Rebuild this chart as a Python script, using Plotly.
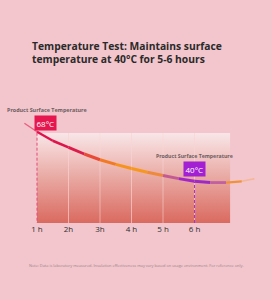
import plotly.graph_objects as go

# ---------------- data ----------------
TITLE_LINES = ["Temperature Test: Maintains surface", "temperature at 40°C for 5-6 hours"]
SERIES_NAME = "Product Surface Temperature"
NOTE = "Note: Data is laboratory measured. Insulation effectiveness may vary based on usage environment. For reference only."

tick_hours = [1, 2, 3, 4, 5, 6]
tick_labels = ["1 h", "2h", "3h", "4 h", "5 h", "6 h"]

curve_hours = [0.6, 1.0, 1.5, 2.0, 2.5, 3.0, 3.5, 4.0, 4.5, 5.0, 5.5, 6.0, 6.5, 7.0, 7.5, 7.9]
curve_temps = [72.7, 68.0, 63.0, 59.3, 55.6, 52.4, 49.8, 47.5, 45.4, 43.6, 41.9, 40.4, 39.7, 39.7, 40.4, 41.8]

start_hour, start_temp, start_label = 1, 68, "68°C"
end_hour, end_temp, end_label = 6, 40, "40°C"

# ---------------- style ----------------
BG = "#f2c6cc"
PANEL_END = 7.13
PANEL_TOP = 67.3
Y_MIN, Y_MAX = 17.2, 141.3
X_MIN, X_MAX = -0.1746, 8.46

seg_colors = ["rgba(230,60,105,0.75)", "#e0124c", "#de144c", "#dc1c4a", "#e84a35", "#f27a24",
              "#f6921e", "#f7981e", "#ee8a3c", "#c45a92", "#a225c8", "#9c28c6", "#c060a0",
              "#f0923a", "rgba(245,170,100,0.55)"]
seg_widths = [1.4, 2.2, 2.6, 2.8, 3, 3, 3, 3, 3, 3, 3, 3, 2.8, 2.2, 1.4]

fig = go.Figure()

# gradient panel columns
edges = tick_hours + [PANEL_END]
for i in range(len(edges) - 1):
    x0, x1 = edges[i], edges[i + 1]
    fig.add_trace(go.Scatter(
        x=[x0, x1, x1, x0, x0], y=[Y_MIN, Y_MIN, PANEL_TOP, PANEL_TOP, Y_MIN],
        mode="lines", line=dict(width=0), fill="toself",
        fillgradient=dict(type="vertical",
                          colorscale=[[0, "#da6a60"], [0.45, "#e7a29b"], [1, "#f9e6e8"]]),
        hoverinfo="skip", showlegend=False))

# column separators
for h in tick_hours[1:]:
    fig.add_trace(go.Scatter(x=[h, h], y=[Y_MIN, PANEL_TOP], mode="lines",
                             line=dict(color="rgba(250,215,215,0.55)", width=1),
                             hoverinfo="skip", showlegend=False))

# dashed marker lines
fig.add_trace(go.Scatter(x=[start_hour, start_hour], y=[Y_MIN - 1.5, start_temp + 0.8], mode="lines",
                         line=dict(color="#e4487a", width=1, dash="3px,2px"),
                         hoverinfo="skip", showlegend=False))
fig.add_trace(go.Scatter(x=[end_hour, end_hour], y=[Y_MIN, end_temp], mode="lines",
                         line=dict(color="#a535cf", width=1, dash="3px,2px"),
                         hoverinfo="skip", showlegend=False))

# gradient curve as segments
for i in range(len(curve_hours) - 1):
    fig.add_trace(go.Scatter(
        x=curve_hours[i:i + 2], y=curve_temps[i:i + 2], mode="lines",
        line=dict(color=seg_colors[i], width=seg_widths[i]),
        hoverinfo="skip", showlegend=False))

FONT = "Open Sans"
ann = []
ann.append(dict(xref="paper", yref="paper", x=30 / 272, y=1, yshift=-37,
                xanchor="left", yanchor="top", align="left",
                text="<b>" + "<br>".join(TITLE_LINES) + "</b>", showarrow=False,
                font=dict(family=FONT, size=10.3, color="#2a2a2a")))
ann.append(dict(x=start_hour, y=start_temp, xref="x", yref="y", text=start_label, showarrow=False,
                xshift=8.5, yshift=8.5, bgcolor="#e5174e", borderpad=1.5,
                font=dict(family=FONT, size=8, color="white")))
ann.append(dict(x=start_hour, y=start_temp, xref="x", yref="y", text="<b>" + SERIES_NAME + "</b>",
                showarrow=False, xanchor="left", xshift=-32, yshift=22,
                font=dict(family=FONT, size=5.4, color="#6e5d61")))
ann.append(dict(x=end_hour, y=end_temp, xref="x", yref="y", text=end_label, showarrow=False,
                yshift=13, bgcolor="#a31fd3", borderpad=1.5,
                font=dict(family=FONT, size=8, color="white")))
ann.append(dict(x=end_hour, y=end_temp, xref="x", yref="y", text="<b>" + SERIES_NAME + "</b>",
                showarrow=False, yshift=26,
                font=dict(family=FONT, size=5.2, color="#6e5d61")))
ann.append(dict(xref="paper", yref="paper", x=0.5, y=0, yshift=-42, yanchor="middle",
                text=NOTE, showarrow=False,
                font=dict(family=FONT, size=3.9, color="#9a8488")))

fig.update_layout(
    width=272, height=300,
    margin=dict(l=0, r=0, t=0, b=77, pad=0),
    paper_bgcolor=BG, plot_bgcolor=BG,
    showlegend=False,
    annotations=ann,
    xaxis=dict(range=[X_MIN, X_MAX], tickvals=tick_hours, ticktext=tick_labels,
               showgrid=False, zeroline=False, showline=False, ticks="",
               tickfont=dict(family=FONT, size=8, color="#2e2e2e"), fixedrange=True),
    yaxis=dict(range=[Y_MIN, Y_MAX], showgrid=False, zeroline=False, showline=False,
               showticklabels=False, ticks="", fixedrange=True),
)

fig.write_html("out.html")
